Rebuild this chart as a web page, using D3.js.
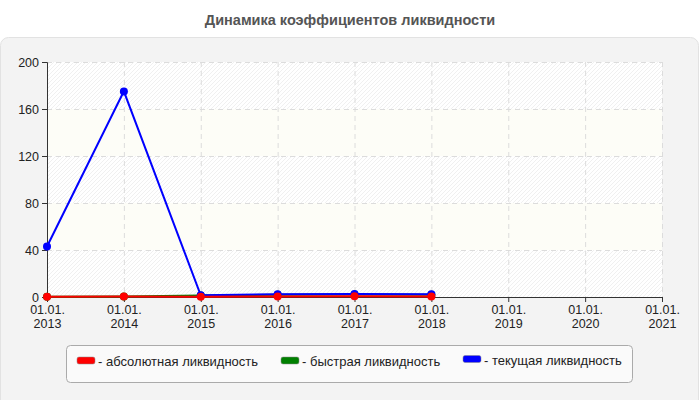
<!DOCTYPE html>
<html>
<head>
<meta charset="utf-8">
<style>
    body { margin:0; background:#fff; }
    svg text { font-family: "Liberation Sans", Arial, sans-serif; }
</style>
</head>
<body>
<div id="chart"></div>
<script src="https://cdn.jsdelivr.net/npm/d3@7"></script>
<script>
var title = "Динамика коэффициентов ликвидности";
var tickYears = ["2013","2014","2015","2016","2017","2018","2019","2020","2021"];
var dataYears = ["2013","2014","2015","2016","2017","2018"];
var absolute = [0.3, 0.4, 0.3, 0.5, 0.6, 0.4];
var quick = [0.3, 0.4, 1.2, 2.0, 2.1, 1.9];
var current = [43, 175, 1.5, 2.4, 2.5, 2.3];
var yTicks = [0, 40, 80, 120, 160, 200];
var seriesNames = ["- абсолютная ликвидность", "- быстрая ликвидность", "- текущая ликвидность"];
var seriesColors = ["#ff0000", "#008000", "#0000ff"];

var W = 700, H = 400;
var svg = d3.select("#chart").append("svg").attr("width", W).attr("height", H);

var defs = svg.append("defs");
var pat = defs.append("pattern")
    .attr("id", "hatch").attr("patternUnits", "userSpaceOnUse")
    .attr("width", 4).attr("height", 4);
pat.append("rect").attr("width", 4).attr("height", 4).attr("fill", "#ffffff");
pat.append("path").attr("d", "M-1,1 l2,-2 M0,4 l4,-4 M3,5 l2,-2")
    .attr("stroke", "#f0f0f0").attr("stroke-width", 1);

// title
svg.append("text").attr("x", 350).attr("y", 25).attr("text-anchor", "middle")
    .attr("font-size", 14.5).attr("font-weight", "bold").attr("fill", "#555")
    .text(title);

// panel
svg.append("rect").attr("x", 0.5).attr("y", 37.5).attr("width", 698).attr("height", 380)
    .attr("rx", 8).attr("fill", "#f3f3f3").attr("stroke", "#e2e2e2");

var pLeft = 47, pRight = 662, pTop = 62, pBottom = 297;
var x = d3.scalePoint().domain(tickYears).range([pLeft, pRight]);
var y = d3.scaleLinear().domain([0, 200]).range([pBottom, pTop]);

// plot background with bands
svg.append("rect").attr("x", pLeft).attr("y", pTop).attr("width", pRight - pLeft).attr("height", pBottom - pTop)
    .attr("fill", "url(#hatch)");
var bands = [[120, 160], [40, 80]];
svg.selectAll(".band").data(bands).enter().append("rect")
    .attr("x", pLeft).attr("width", pRight - pLeft)
    .attr("y", function(d){ return y(d[1]); })
    .attr("height", function(d){ return y(d[0]) - y(d[1]); })
    .attr("fill", "#fdfdf7");

// grid
svg.selectAll(".gy").data(yTicks.slice(1)).enter().append("line")
    .attr("x1", pLeft).attr("x2", pRight)
    .attr("y1", function(d){ return y(d) + 0.5; }).attr("y2", function(d){ return y(d) + 0.5; })
    .attr("stroke", "#dcdcdc").attr("stroke-dasharray", "5,4");
svg.selectAll(".gx").data(tickYears.slice(1)).enter().append("line")
    .attr("y1", pTop).attr("y2", pBottom)
    .attr("x1", function(d){ return x(d) + 0.5; }).attr("x2", function(d){ return x(d) + 0.5; })
    .attr("stroke", "#dcdcdc").attr("stroke-dasharray", "5,4");

// axes
var yAxis = svg.append("g").attr("transform", "translate(" + pLeft + ",0)")
    .call(d3.axisLeft(y).tickValues(yTicks).tickSize(5).tickPadding(3));
var xAxis = svg.append("g").attr("transform", "translate(0," + pBottom + ")")
    .call(d3.axisBottom(x).tickSize(5).tickPadding(2).tickFormat(""));
[yAxis, xAxis].forEach(function(a){
    a.select(".domain").attr("stroke", "#333");
    a.selectAll(".tick line").attr("stroke", "#333");
});
yAxis.selectAll("text").attr("font-size", 12.5).attr("fill", "#222").attr("font-family", "Liberation Sans, Arial, sans-serif");
xAxis.selectAll(".tick").append("text")
    .attr("fill", "#222").attr("font-size", 12.5).attr("text-anchor", "middle")
    .attr("y", 17).text("01.01.");
xAxis.selectAll(".tick").append("text")
    .attr("fill", "#222").attr("font-size", 12.5).attr("text-anchor", "middle")
    .attr("y", 31).text(function(d){ return d; });

// series: green first, then blue, red on top
var series = [absolute, quick, current];
var line = d3.line().x(function(d, i){ return x(dataYears[i]); }).y(function(d){ return y(d); });
[1, 2, 0].forEach(function(k){
    var s = series[k];
    svg.append("path").datum(s).attr("d", line)
        .attr("fill", "none").attr("stroke", seriesColors[k]).attr("stroke-width", 2);
    svg.selectAll(".pt" + k).data(s).enter().append("circle")
        .attr("cx", function(d, i){ return x(dataYears[i]); })
        .attr("cy", function(d){ return y(d); })
        .attr("r", 4).attr("fill", seriesColors[k]);
});

// legend
svg.append("rect").attr("x", 66.5).attr("y", 345.5).attr("width", 566).attr("height", 37)
    .attr("rx", 4).attr("fill", "#fafafa").attr("stroke", "#aaaaaa");
var legX = [77, 281, 463], legY = [357, 357, 355.5];
var leg = svg.selectAll(".leg").data(seriesNames).enter().append("g")
    .attr("transform", function(d, i){ return "translate(" + legX[i] + "," + legY[i] + ")"; });
leg.append("rect").attr("width", 18).attr("height", 7).attr("rx", 2)
    .attr("fill", function(d, i){ return seriesColors[i]; })
    .attr("stroke", "#888").attr("stroke-width", 0.5);
leg.append("text").attr("x", 21).attr("y", 9).attr("font-size", 13).attr("fill", "#222")
    .text(function(d){ return d; });
</script>
</body>
</html>
